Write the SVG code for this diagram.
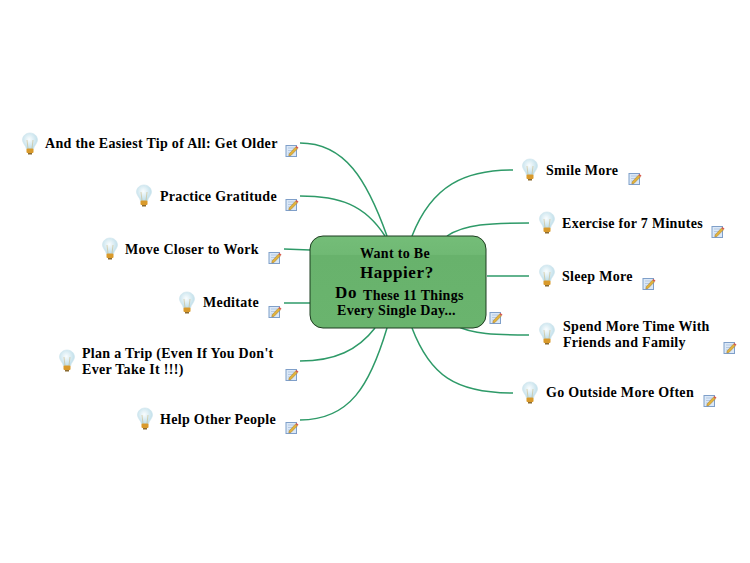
<svg xmlns="http://www.w3.org/2000/svg" width="750" height="563" viewBox="0 0 750 563">
<style>
.c{fill:none;stroke:#2e9a68;stroke-width:1.5}
text{font-family:"Liberation Serif","Times New Roman",serif;font-weight:bold;fill:#000;font-size:14px;letter-spacing:.3px}
</style>
<defs>
<linearGradient id="g" x1="0" y1="0" x2="0" y2="1"><stop offset="0" stop-color="#74bd78"/><stop offset=".2" stop-color="#70b974"/><stop offset=".21" stop-color="#68b26c"/><stop offset="1" stop-color="#6ab46e"/></linearGradient>
<radialGradient id="b" cx=".45" cy=".4" r=".6"><stop offset="0" stop-color="#fafdfe"/><stop offset="1" stop-color="#bcdde9"/></radialGradient>
<g id="bulb">
<path d="M0 0c-4.200 0-7.500 3-7.500 6.800 0 3.400 3 5.200 4 9.200h7c1-4 4-5.800 4-9.200C7.500 3 4.200 0 0 0z" fill="url(#b)" stroke="#cfe4ec" stroke-width=".6"/>
<path d="M-2 15.500-3 7M2 15.500 3 7" fill="none" stroke="#c8b070" stroke-width=".5"/>
<rect x="-3.500" y="15.500" width="7" height="4.500" rx="1" fill="#d99a2b"/>
<rect x="-2" y="20" width="4" height="1.500" fill="#8a6a30"/>
</g>
<g id="note">
<rect x="0" y="1.500" width="10.500" height="11" fill="#dbe8f7" stroke="#7f9fc9"/>
<path d="M2 4h6M2 6.500h6M2 9h4" stroke="#a8bcd8" stroke-width=".7"/>
<path d="M3 10 9.500 3l2 1.800L5 11.500 2.800 12z" fill="#e2b23a" stroke="#8a6a30" stroke-width=".4"/>
<path d="M9.500 3l1-1 2 1.800-1 1z" fill="#d9534a"/>
</g>
</defs>
<g id="connectors">
<path class="c" d="M300 143C345 143 367 180 387 236"/>
<path class="c" d="M300 196C340 196 365 205 385 236"/>
<path class="c" d="M284 249 310 250"/>
<path class="c" d="M284 303H310"/>
<path class="c" d="M300 361C335 361 358 350 375 328"/>
<path class="c" d="M300 420C350 420 370 385 387 328"/>
<path class="c" d="M513 170C465 170 432 185 412 236"/>
<path class="c" d="M529 223C490 223 465 224 447 236"/>
<path class="c" d="M487 276H529"/>
<path class="c" d="M529 335C495 335 472 334 457 326"/>
<path class="c" d="M513 393C455 393 430 375 412 328"/>
</g>
<g id="center">
<rect x="310" y="236" width="176" height="92" rx="13" fill="url(#g)" stroke="#1d3d20" stroke-width="1"/>
<text x="360" y="258">Want to Be</text>
<text x="360" y="278" style="font-size:17px;letter-spacing:.6px">Happier?</text>
<text x="335" y="298" style="font-size:17px;letter-spacing:.6px">Do</text>
<text x="363" y="300">These 11 Things</text>
<text x="337" y="315">Every Single Day...</text>
<use href="#note" x="490" y="311"/>
</g>
<g id="n1"><use href="#bulb" x="30" y="133"/><text x="45" y="148">And the Easiest Tip of All: Get Older</text><use href="#note" x="286" y="144"/></g>
<g id="n2"><use href="#bulb" x="144" y="185"/><text x="160" y="201">Practice Gratitude</text><use href="#note" x="286" y="198"/></g>
<g id="n3"><use href="#bulb" x="110" y="238"/><text x="125" y="254">Move Closer to Work</text><use href="#note" x="269" y="251"/></g>
<g id="n4"><use href="#bulb" x="187" y="292"/><text x="203" y="307">Meditate</text><use href="#note" x="269" y="305"/></g>
<g id="n5"><use href="#bulb" x="67" y="350"/><text x="82" y="358">Plan a Trip (Even If You Don't</text><text x="82" y="374">Ever Take It !!!)</text><use href="#note" x="286" y="368"/></g>
<g id="n6"><use href="#bulb" x="145" y="408"/><text x="160" y="424">Help Other People</text><use href="#note" x="286" y="421"/></g>
<g id="n7"><use href="#bulb" x="530" y="159"/><text x="546" y="175">Smile More</text><use href="#note" x="629" y="172"/></g>
<g id="n8"><use href="#bulb" x="547" y="212"/><text x="562" y="228">Exercise for 7 Minutes</text><use href="#note" x="712" y="225"/></g>
<g id="n9"><use href="#bulb" x="547" y="265"/><text x="562" y="281">Sleep More</text><use href="#note" x="643" y="277"/></g>
<g id="n10"><use href="#bulb" x="547" y="323"/><text x="563" y="331">Spend More Time With</text><text x="563" y="347">Friends and Family</text><use href="#note" x="724" y="341"/></g>
<g id="n11"><use href="#bulb" x="530" y="382"/><text x="546" y="397">Go Outside More Often</text><use href="#note" x="704" y="394"/></g>
</svg>
